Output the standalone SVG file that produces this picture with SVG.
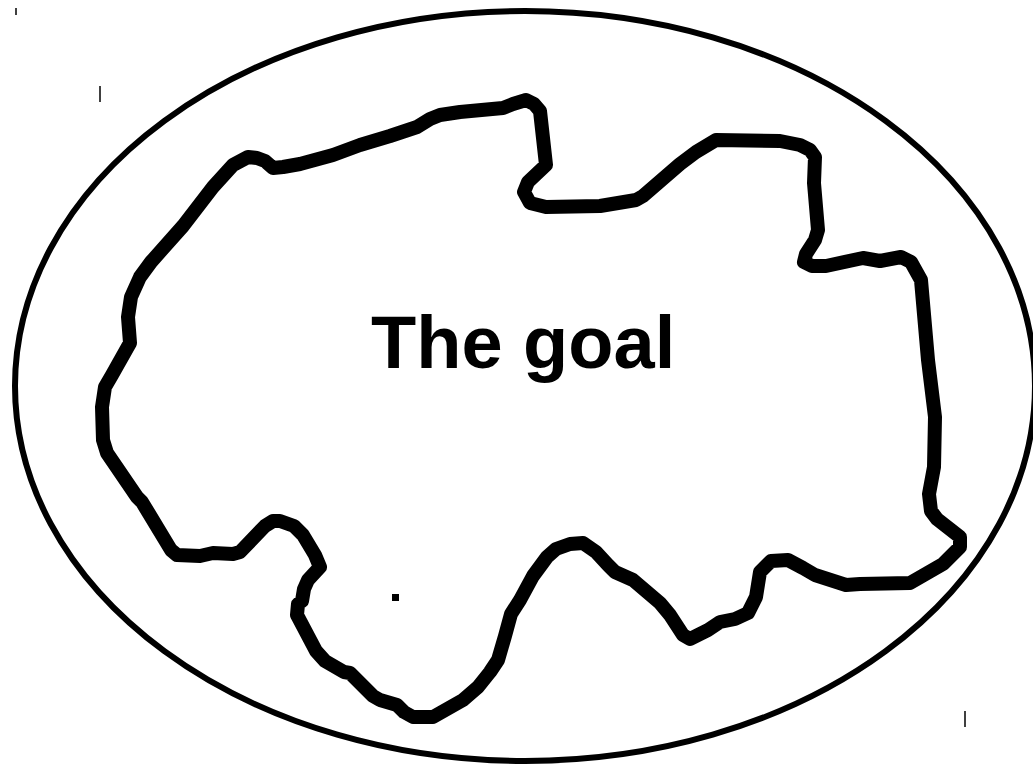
<svg xmlns="http://www.w3.org/2000/svg" width="1033" height="768" viewBox="0 0 1033 768">
<style>
.outline{fill:none;stroke:#000;stroke-width:6}
.blob{fill:none;stroke:#000;stroke-width:14;stroke-linejoin:round;stroke-linecap:round}
.tick{stroke:#000;stroke-width:1.5}
.label{font-family:"Liberation Sans",Arial,sans-serif;font-weight:bold;font-size:74px;fill:#000}
</style>
<rect width="1033" height="768" fill="#fff"/>
<g id="ellipse">
<ellipse class="outline" cx="525" cy="386" rx="510" ry="375"/>
</g>
<g id="goal">
<path class="blob" d="M248,157 L257,158 L265,161 L273,168 L283,167 L300,164 L333,155 L360,145 L390,136 L417,127 L430,119 L440,115 L460,112 L503,108 L513,104 L526,100 L534,104 L540,111 L546,165 L528,182 L524,192 L530,203 L546,207 L600,206 L636,200 L643,196 L680,164 L696,152 L716,140 L780,141 L800,145 L810,150 L815,157 L814,183 L818,230 L815,240 L806,254 L804,262 L812,266 L826,266 L863,258 L880,261 L901,257 L911,262 L921,280 L928,360 L935,417 L934,467 L929,494 L931,511 L937,519 L960,537 L960,547 L943,564 L910,583 L860,584 L846,585 L815,575 L803,568 L788,560 L771,561 L760,572 L756,597 L748,613 L735,619 L720,622 L708,630 L690,639 L683,635 L670,615 L660,603 L633,580 L615,572 L608,565 L596,552 L583,543 L570,544 L556,549 L547,557 L533,576 L520,600 L511,614 L505,636 L498,660 L490,672 L478,687 L463,700 L433,717 L413,717 L404,712 L397,705 L380,700 L373,696 L350,673 L344,672 L325,661 L316,651 L297,615 L298,604 L302,601 L304,589 L308,580 L320,567 L315,555 L303,535 L294,526 L280,521 L273,521 L265,526 L240,552 L233,554 L213,553 L200,556 L177,555 L171,550 L142,502 L137,497 L107,453 L103,440 L102,407 L105,387 L112,375 L130,343 L128,317 L131,297 L140,277 L151,262 L183,226 L213,187 L233,165 Z"/>
<text class="label" x="371" y="368">The goal</text>
</g>
<g id="marks">
<line class="tick" x1="16" y1="8" x2="16" y2="15"/>
<line class="tick" x1="100" y1="86" x2="100" y2="102"/>
<rect x="392" y="594" width="7" height="7" fill="#000"/>
<line class="tick" x1="965" y1="711" x2="965" y2="727"/>
</g>
</svg>
